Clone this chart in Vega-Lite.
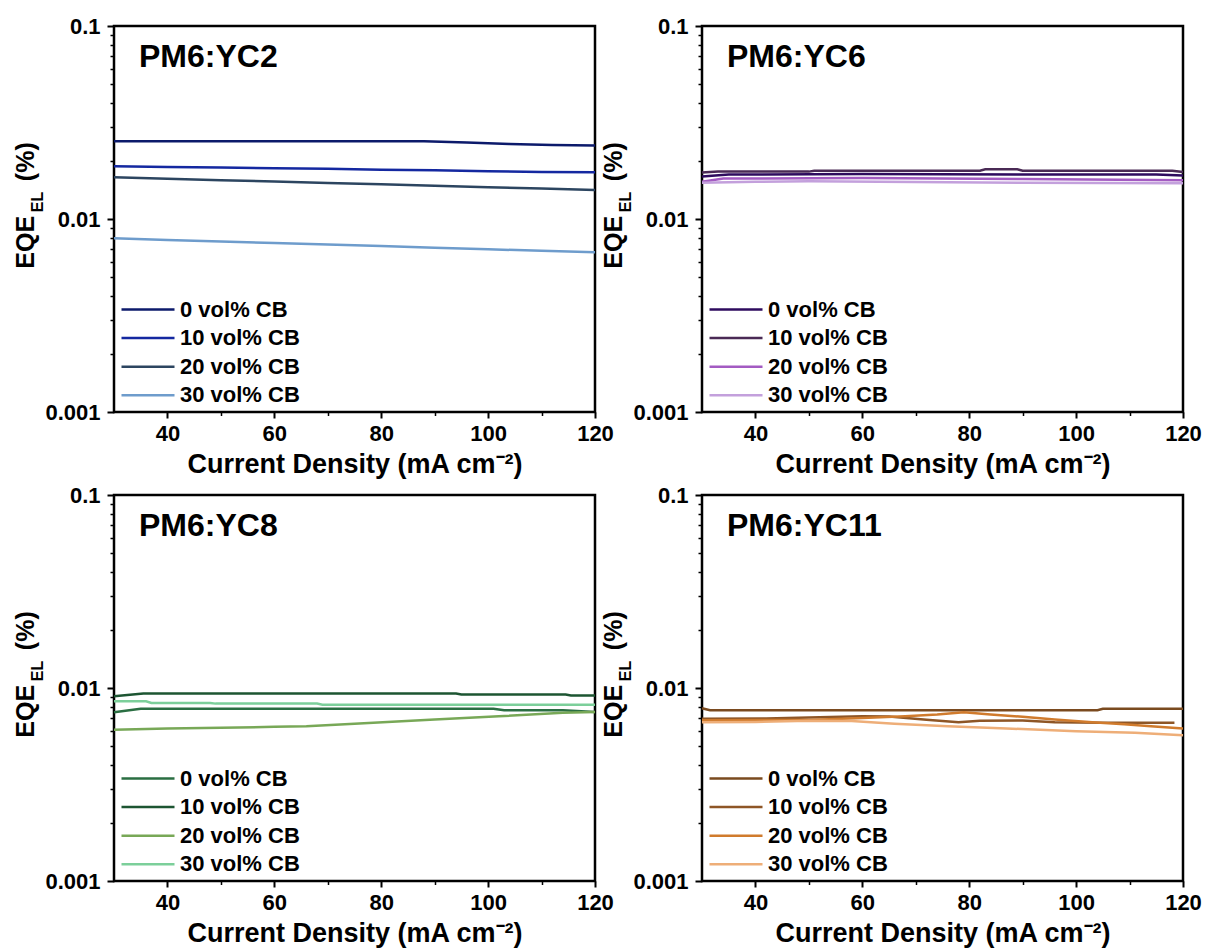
{
  "$schema": "https://vega.github.io/schema/vega-lite/v6.json",
  "background": "white",
  "padding": {"left": 11, "top": 13, "right": 0, "bottom": 0},
  "datasets": {
    "p1": [
      {"cb": "0 vol% CB", "j": 30, "eqe": 0.0253}, {"cb": "0 vol% CB", "j": 88, "eqe": 0.0253}, {"cb": "0 vol% CB", "j": 96, "eqe": 0.0249}, {"cb": "0 vol% CB", "j": 104, "eqe": 0.0245}, {"cb": "0 vol% CB", "j": 112, "eqe": 0.0242}, {"cb": "0 vol% CB", "j": 120, "eqe": 0.024},
      {"cb": "10 vol% CB", "j": 30, "eqe": 0.01875}, {"cb": "10 vol% CB", "j": 40, "eqe": 0.0186}, {"cb": "10 vol% CB", "j": 50, "eqe": 0.0185}, {"cb": "10 vol% CB", "j": 60, "eqe": 0.0183}, {"cb": "10 vol% CB", "j": 70, "eqe": 0.0182}, {"cb": "10 vol% CB", "j": 80, "eqe": 0.018}, {"cb": "10 vol% CB", "j": 90, "eqe": 0.0179}, {"cb": "10 vol% CB", "j": 100, "eqe": 0.0177}, {"cb": "10 vol% CB", "j": 110, "eqe": 0.0175}, {"cb": "10 vol% CB", "j": 120, "eqe": 0.01746},
      {"cb": "20 vol% CB", "j": 30, "eqe": 0.01644}, {"cb": "20 vol% CB", "j": 40, "eqe": 0.01617}, {"cb": "20 vol% CB", "j": 50, "eqe": 0.0159}, {"cb": "20 vol% CB", "j": 60, "eqe": 0.01564}, {"cb": "20 vol% CB", "j": 70, "eqe": 0.01538}, {"cb": "20 vol% CB", "j": 80, "eqe": 0.01512}, {"cb": "20 vol% CB", "j": 90, "eqe": 0.01487}, {"cb": "20 vol% CB", "j": 100, "eqe": 0.01461}, {"cb": "20 vol% CB", "j": 110, "eqe": 0.01437}, {"cb": "20 vol% CB", "j": 120, "eqe": 0.01413},
      {"cb": "30 vol% CB", "j": 30, "eqe": 0.00794}, {"cb": "30 vol% CB", "j": 40, "eqe": 0.00779}, {"cb": "30 vol% CB", "j": 50, "eqe": 0.00765}, {"cb": "30 vol% CB", "j": 60, "eqe": 0.00751}, {"cb": "30 vol% CB", "j": 70, "eqe": 0.00738}, {"cb": "30 vol% CB", "j": 80, "eqe": 0.00724}, {"cb": "30 vol% CB", "j": 90, "eqe": 0.0071}, {"cb": "30 vol% CB", "j": 100, "eqe": 0.00697}, {"cb": "30 vol% CB", "j": 110, "eqe": 0.00684}, {"cb": "30 vol% CB", "j": 120, "eqe": 0.00672}
    ],
    "p2": [
      {"cb": "0 vol% CB", "j": 30, "eqe": 0.0166}, {"cb": "0 vol% CB", "j": 35, "eqe": 0.017}, {"cb": "0 vol% CB", "j": 60, "eqe": 0.0171}, {"cb": "0 vol% CB", "j": 90, "eqe": 0.017}, {"cb": "0 vol% CB", "j": 115, "eqe": 0.017}, {"cb": "0 vol% CB", "j": 120, "eqe": 0.0168},
      {"cb": "10 vol% CB", "j": 30, "eqe": 0.0174}, {"cb": "10 vol% CB", "j": 33, "eqe": 0.0176}, {"cb": "10 vol% CB", "j": 50, "eqe": 0.0176}, {"cb": "10 vol% CB", "j": 51, "eqe": 0.0178}, {"cb": "10 vol% CB", "j": 82, "eqe": 0.0178}, {"cb": "10 vol% CB", "j": 83, "eqe": 0.0181}, {"cb": "10 vol% CB", "j": 89, "eqe": 0.0181}, {"cb": "10 vol% CB", "j": 90, "eqe": 0.0178}, {"cb": "10 vol% CB", "j": 118, "eqe": 0.0178}, {"cb": "10 vol% CB", "j": 120, "eqe": 0.0175},
      {"cb": "20 vol% CB", "j": 30, "eqe": 0.0156}, {"cb": "20 vol% CB", "j": 34, "eqe": 0.0162}, {"cb": "20 vol% CB", "j": 60, "eqe": 0.0163}, {"cb": "20 vol% CB", "j": 90, "eqe": 0.0161}, {"cb": "20 vol% CB", "j": 120, "eqe": 0.0159},
      {"cb": "30 vol% CB", "j": 30, "eqe": 0.0154}, {"cb": "30 vol% CB", "j": 40, "eqe": 0.0156}, {"cb": "30 vol% CB", "j": 50, "eqe": 0.0157}, {"cb": "30 vol% CB", "j": 90, "eqe": 0.0154}, {"cb": "30 vol% CB", "j": 120, "eqe": 0.0153}
    ],
    "p3": [
      {"cb": "0 vol% CB", "j": 30, "eqe": 0.00749}, {"cb": "0 vol% CB", "j": 35, "eqe": 0.0078}, {"cb": "0 vol% CB", "j": 101, "eqe": 0.0078}, {"cb": "0 vol% CB", "j": 103, "eqe": 0.00767}, {"cb": "0 vol% CB", "j": 114, "eqe": 0.00767}, {"cb": "0 vol% CB", "j": 120, "eqe": 0.00752},
      {"cb": "10 vol% CB", "j": 30, "eqe": 0.00906}, {"cb": "10 vol% CB", "j": 35.5, "eqe": 0.00936}, {"cb": "10 vol% CB", "j": 94, "eqe": 0.00936}, {"cb": "10 vol% CB", "j": 95, "eqe": 0.00925}, {"cb": "10 vol% CB", "j": 114.5, "eqe": 0.00925}, {"cb": "10 vol% CB", "j": 115.5, "eqe": 0.00914}, {"cb": "10 vol% CB", "j": 120, "eqe": 0.00914},
      {"cb": "20 vol% CB", "j": 30, "eqe": 0.00608}, {"cb": "20 vol% CB", "j": 40, "eqe": 0.00616}, {"cb": "20 vol% CB", "j": 50, "eqe": 0.00622}, {"cb": "20 vol% CB", "j": 60, "eqe": 0.00629}, {"cb": "20 vol% CB", "j": 66, "eqe": 0.00634}, {"cb": "20 vol% CB", "j": 75, "eqe": 0.00652}, {"cb": "20 vol% CB", "j": 90, "eqe": 0.00686}, {"cb": "20 vol% CB", "j": 102, "eqe": 0.00714}, {"cb": "20 vol% CB", "j": 114, "eqe": 0.00744}, {"cb": "20 vol% CB", "j": 120, "eqe": 0.00752},
      {"cb": "30 vol% CB", "j": 30, "eqe": 0.00854}, {"cb": "30 vol% CB", "j": 36, "eqe": 0.00854}, {"cb": "30 vol% CB", "j": 37, "eqe": 0.00837}, {"cb": "30 vol% CB", "j": 48, "eqe": 0.00837}, {"cb": "30 vol% CB", "j": 49, "eqe": 0.0083}, {"cb": "30 vol% CB", "j": 68, "eqe": 0.0083}, {"cb": "30 vol% CB", "j": 69, "eqe": 0.0082}, {"cb": "30 vol% CB", "j": 120, "eqe": 0.0082}
    ],
    "p4": [
      {"cb": "0 vol% CB", "j": 30, "eqe": 0.00785}, {"cb": "0 vol% CB", "j": 31.5, "eqe": 0.00767}, {"cb": "0 vol% CB", "j": 104, "eqe": 0.00767}, {"cb": "0 vol% CB", "j": 105, "eqe": 0.0078}, {"cb": "0 vol% CB", "j": 120, "eqe": 0.0078},
      {"cb": "10 vol% CB", "j": 30, "eqe": 0.00692}, {"cb": "10 vol% CB", "j": 42, "eqe": 0.00695}, {"cb": "10 vol% CB", "j": 50, "eqe": 0.00703}, {"cb": "10 vol% CB", "j": 60, "eqe": 0.00714}, {"cb": "10 vol% CB", "j": 65, "eqe": 0.00712}, {"cb": "10 vol% CB", "j": 72, "eqe": 0.00685}, {"cb": "10 vol% CB", "j": 78, "eqe": 0.00665}, {"cb": "10 vol% CB", "j": 82, "eqe": 0.00677}, {"cb": "10 vol% CB", "j": 90, "eqe": 0.00678}, {"cb": "10 vol% CB", "j": 96, "eqe": 0.00664}, {"cb": "10 vol% CB", "j": 105, "eqe": 0.0066}, {"cb": "10 vol% CB", "j": 118.4, "eqe": 0.0066},
      {"cb": "20 vol% CB", "j": 30, "eqe": 0.00681}, {"cb": "20 vol% CB", "j": 50, "eqe": 0.00683}, {"cb": "20 vol% CB", "j": 60, "eqe": 0.007}, {"cb": "20 vol% CB", "j": 68, "eqe": 0.00714}, {"cb": "20 vol% CB", "j": 74, "eqe": 0.00729}, {"cb": "20 vol% CB", "j": 79, "eqe": 0.00749}, {"cb": "20 vol% CB", "j": 84, "eqe": 0.00729}, {"cb": "20 vol% CB", "j": 90, "eqe": 0.00709}, {"cb": "20 vol% CB", "j": 96, "eqe": 0.00686}, {"cb": "20 vol% CB", "j": 103, "eqe": 0.00665}, {"cb": "20 vol% CB", "j": 109, "eqe": 0.00649}, {"cb": "20 vol% CB", "j": 114, "eqe": 0.00634}, {"cb": "20 vol% CB", "j": 120, "eqe": 0.00617},
      {"cb": "30 vol% CB", "j": 30, "eqe": 0.00665}, {"cb": "30 vol% CB", "j": 40, "eqe": 0.00667}, {"cb": "30 vol% CB", "j": 50, "eqe": 0.00676}, {"cb": "30 vol% CB", "j": 58, "eqe": 0.00674}, {"cb": "30 vol% CB", "j": 66, "eqe": 0.00652}, {"cb": "30 vol% CB", "j": 76, "eqe": 0.00634}, {"cb": "30 vol% CB", "j": 87, "eqe": 0.00617}, {"cb": "30 vol% CB", "j": 100, "eqe": 0.00597}, {"cb": "30 vol% CB", "j": 111, "eqe": 0.00586}, {"cb": "30 vol% CB", "j": 120, "eqe": 0.00569}
    ]
  },
  "columns": 2,
  "spacing": {"row": 83, "column": 107},
  "bounds": "flush",
  "resolve": {"scale": {"color": "independent"}, "legend": {"color": "independent"}},
  "concat": [
    {
      "width": 481, "height": 386,
      "data": {"name": "p1"},
      "title": {"text": "PM6:YC2"},
      "layer": [
        {
          "mark": {"type": "line", "strokeWidth": 2.5},
          "encoding": {
            "x": {"field": "j", "type": "quantitative", "scale": {"domain": [30, 120], "nice": false, "zero": false}, "axis": {"values": [40, 60, 80, 100, 120], "title": "Current Density (mA cm⁻²)"}},
            "y": {"field": "eqe", "type": "quantitative", "scale": {"type": "log", "domain": [0.001, 0.1], "nice": false}, "axis": {"values": [0.001, 0.01, 0.1], "format": "~g", "title": "EQE\u00a0\u00a0\u00a0\u00a0\u00a0(%)"}},
            "color": {"field": "cb", "type": "nominal", "scale": {"domain": ["0 vol% CB", "10 vol% CB", "20 vol% CB", "30 vol% CB"], "range": ["#0c1a6b", "#1428a0", "#2c4560", "#6e9ccc"]}, "legend": {"title": null}}
          }
        },
        {
          "mark": {"type": "line", "opacity": 0},
          "encoding": {
            "x": {"field": "j", "type": "quantitative", "axis": {"orient": "bottom", "values": [50, 70, 90, 110], "labels": false, "tickSize": 3.5, "tickWidth": 1.5, "title": null}},
            "y": {"field": "eqe", "type": "quantitative", "axis": {"orient": "left", "values": [0.002, 0.003, 0.004, 0.005, 0.006, 0.007, 0.008, 0.009, 0.02, 0.03, 0.04, 0.05, 0.06, 0.07, 0.08, 0.09], "labels": false, "tickSize": 4, "tickWidth": 1.5, "title": "EL", "titleFontSize": 16, "titleX": -71.3, "titleY": 175.5}}
          }
        }
      ],
      "resolve": {"axis": {"x": "independent", "y": "independent"}}
    },
    {
      "width": 481, "height": 386,
      "data": {"name": "p2"},
      "title": {"text": "PM6:YC6"},
      "layer": [
        {
          "mark": {"type": "line", "strokeWidth": 2.5},
          "encoding": {
            "x": {"field": "j", "type": "quantitative", "scale": {"domain": [30, 120], "nice": false, "zero": false}, "axis": {"values": [40, 60, 80, 100, 120], "title": "Current Density (mA cm⁻²)"}},
            "y": {"field": "eqe", "type": "quantitative", "scale": {"type": "log", "domain": [0.001, 0.1], "nice": false}, "axis": {"values": [0.001, 0.01, 0.1], "format": "~g", "title": "EQE\u00a0\u00a0\u00a0\u00a0\u00a0(%)"}},
            "color": {"field": "cb", "type": "nominal", "scale": {"domain": ["0 vol% CB", "10 vol% CB", "20 vol% CB", "30 vol% CB"], "range": ["#2e0b5e", "#4a2a55", "#a35bc2", "#c3a0dc"]}, "legend": {"title": null}}
          }
        },
        {
          "mark": {"type": "line", "opacity": 0},
          "encoding": {
            "x": {"field": "j", "type": "quantitative", "axis": {"orient": "bottom", "values": [50, 70, 90, 110], "labels": false, "tickSize": 3.5, "tickWidth": 1.5, "title": null}},
            "y": {"field": "eqe", "type": "quantitative", "axis": {"orient": "left", "values": [0.002, 0.003, 0.004, 0.005, 0.006, 0.007, 0.008, 0.009, 0.02, 0.03, 0.04, 0.05, 0.06, 0.07, 0.08, 0.09], "labels": false, "tickSize": 4, "tickWidth": 1.5, "title": "EL", "titleFontSize": 16, "titleX": -71.3, "titleY": 175.5}}
          }
        }
      ],
      "resolve": {"axis": {"x": "independent", "y": "independent"}}
    },
    {
      "width": 481, "height": 386,
      "data": {"name": "p3"},
      "title": {"text": "PM6:YC8"},
      "layer": [
        {
          "mark": {"type": "line", "strokeWidth": 2.5},
          "encoding": {
            "x": {"field": "j", "type": "quantitative", "scale": {"domain": [30, 120], "nice": false, "zero": false}, "axis": {"values": [40, 60, 80, 100, 120], "title": "Current Density (mA cm⁻²)"}},
            "y": {"field": "eqe", "type": "quantitative", "scale": {"type": "log", "domain": [0.001, 0.1], "nice": false}, "axis": {"values": [0.001, 0.01, 0.1], "format": "~g", "title": "EQE\u00a0\u00a0\u00a0\u00a0\u00a0(%)"}},
            "color": {"field": "cb", "type": "nominal", "scale": {"domain": ["0 vol% CB", "10 vol% CB", "20 vol% CB", "30 vol% CB"], "range": ["#2a6e42", "#1d5532", "#78a857", "#7ccf9a"]}, "legend": {"title": null}}
          }
        },
        {
          "mark": {"type": "line", "opacity": 0},
          "encoding": {
            "x": {"field": "j", "type": "quantitative", "axis": {"orient": "bottom", "values": [50, 70, 90, 110], "labels": false, "tickSize": 3.5, "tickWidth": 1.5, "title": null}},
            "y": {"field": "eqe", "type": "quantitative", "axis": {"orient": "left", "values": [0.002, 0.003, 0.004, 0.005, 0.006, 0.007, 0.008, 0.009, 0.02, 0.03, 0.04, 0.05, 0.06, 0.07, 0.08, 0.09], "labels": false, "tickSize": 4, "tickWidth": 1.5, "title": "EL", "titleFontSize": 16, "titleX": -71.3, "titleY": 175.5}}
          }
        }
      ],
      "resolve": {"axis": {"x": "independent", "y": "independent"}}
    },
    {
      "width": 481, "height": 386,
      "data": {"name": "p4"},
      "title": {"text": "PM6:YC11"},
      "layer": [
        {
          "mark": {"type": "line", "strokeWidth": 2.5},
          "encoding": {
            "x": {"field": "j", "type": "quantitative", "scale": {"domain": [30, 120], "nice": false, "zero": false}, "axis": {"values": [40, 60, 80, 100, 120], "title": "Current Density (mA cm⁻²)"}},
            "y": {"field": "eqe", "type": "quantitative", "scale": {"type": "log", "domain": [0.001, 0.1], "nice": false}, "axis": {"values": [0.001, 0.01, 0.1], "format": "~g", "title": "EQE\u00a0\u00a0\u00a0\u00a0\u00a0(%)"}},
            "color": {"field": "cb", "type": "nominal", "scale": {"domain": ["0 vol% CB", "10 vol% CB", "20 vol% CB", "30 vol% CB"], "range": ["#7a4a1f", "#8e5626", "#d07b2d", "#eeae78"]}, "legend": {"title": null}}
          }
        },
        {
          "mark": {"type": "line", "opacity": 0},
          "encoding": {
            "x": {"field": "j", "type": "quantitative", "axis": {"orient": "bottom", "values": [50, 70, 90, 110], "labels": false, "tickSize": 3.5, "tickWidth": 1.5, "title": null}},
            "y": {"field": "eqe", "type": "quantitative", "axis": {"orient": "left", "values": [0.002, 0.003, 0.004, 0.005, 0.006, 0.007, 0.008, 0.009, 0.02, 0.03, 0.04, 0.05, 0.06, 0.07, 0.08, 0.09], "labels": false, "tickSize": 4, "tickWidth": 1.5, "title": "EL", "titleFontSize": 16, "titleX": -71.3, "titleY": 175.5}}
          }
        }
      ],
      "resolve": {"axis": {"x": "independent", "y": "independent"}}
    }
  ],
  "config": {
    "font": "Liberation Sans",
    "view": {"stroke": "black", "strokeWidth": 2.5},
    "title": {"anchor": "start", "frame": "group", "fontSize": 32, "fontWeight": "bold", "color": "black", "offset": -59, "dx": 25, "baseline": "alphabetic"},
    "axis": {"domain": false, "grid": false, "tickColor": "black", "labelColor": "black", "titleColor": "black", "labelFontWeight": "bold", "titleFontWeight": "bold", "labelFontSize": 22, "labelFlush": false},
    "axisX": {"tickSize": 6, "tickWidth": 2, "labelPadding": 5.5, "titleFontSize": 27, "titleY": 60, "titleBaseline": "alphabetic"},
    "axisY": {"tickSize": 7, "tickWidth": 2, "labelPadding": 7, "titleFontSize": 25, "titleX": -81, "titleY": 179, "titleBaseline": "alphabetic", "titleAngle": -90},
    "legend": {"orient": "none", "legendX": 6, "legendY": 271.5, "padding": 0, "symbolType": "stroke", "symbolSize": 2809, "symbolStrokeWidth": 2.5, "labelFontSize": 22, "labelFontWeight": "bold", "labelColor": "black", "labelOffset": 4, "clipHeight": 24, "rowPadding": 4.6}
  }
}
